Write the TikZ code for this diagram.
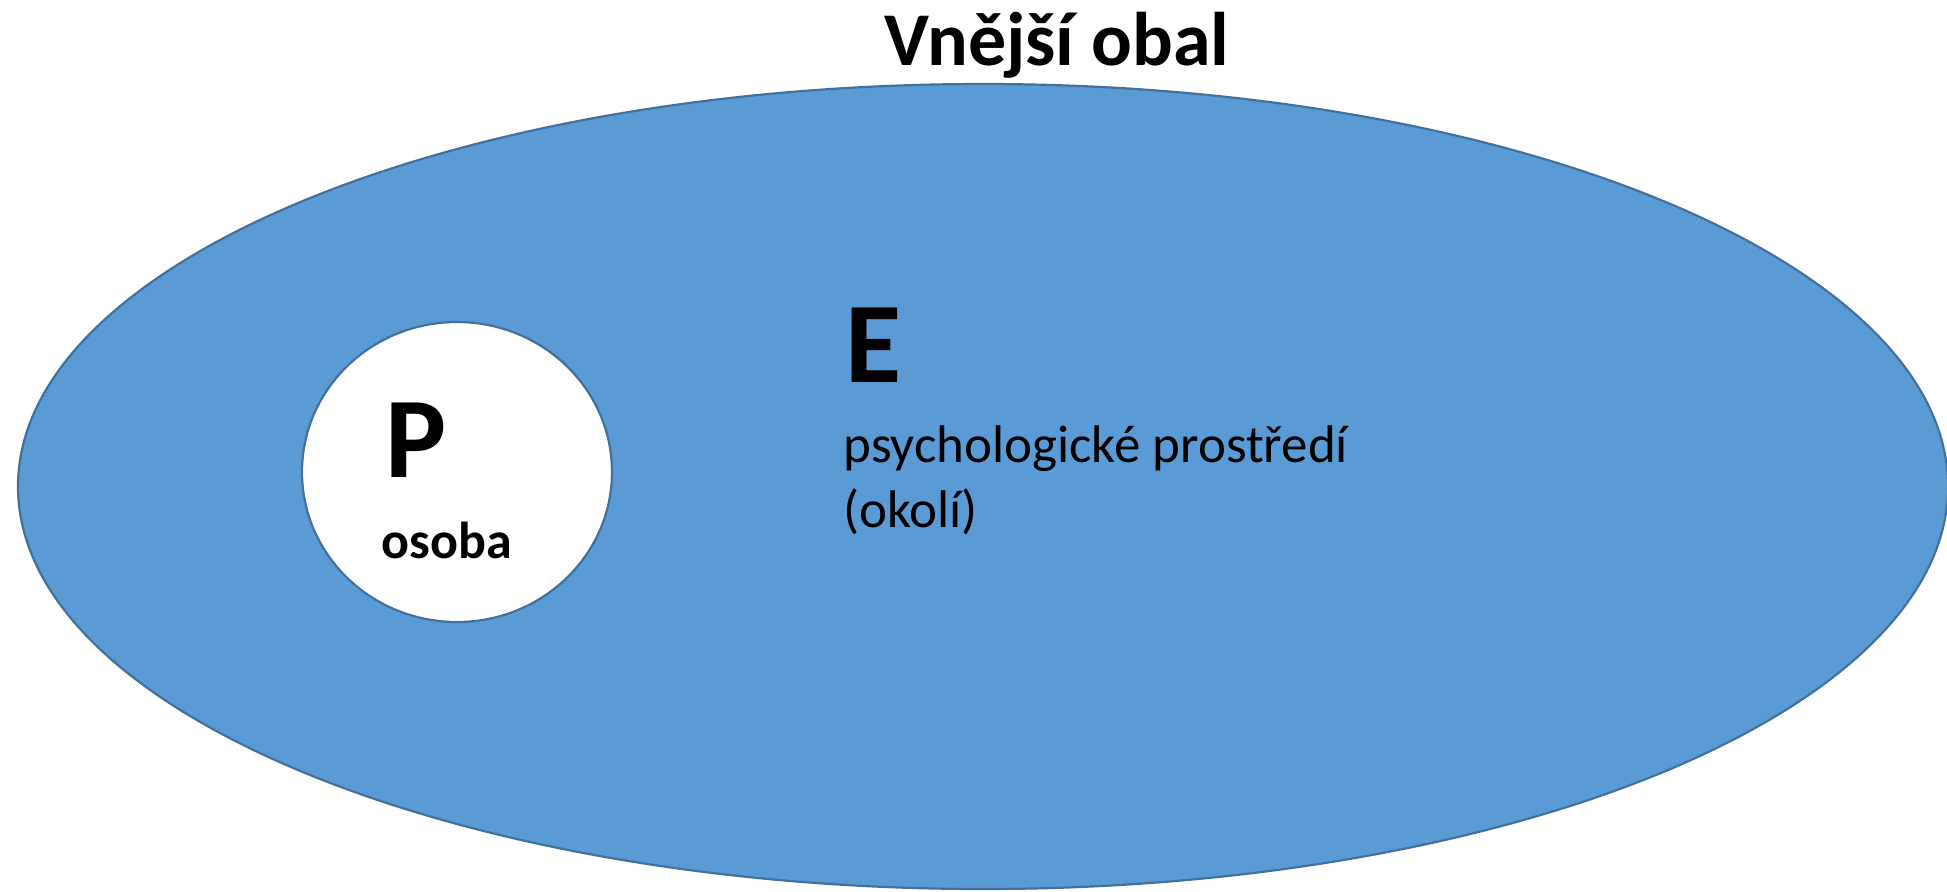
\documentclass[tikz,border=0pt]{standalone}
\usepackage{fontspec}
\setmainfont{Carlito}
\usetikzlibrary{shapes.geometric}
\definecolor{fillblue}{HTML}{5B9BD5}
\definecolor{edgeblue}{HTML}{41719C}
\tikzset{
  shape outline/.style={ellipse, draw=edgeblue, line width=1.1pt, inner sep=0pt},
  lbl/.style={inner sep=0pt, anchor=base west, text=black}
}
\begin{document}
\begin{tikzpicture}[x=0.5pt,y=0.5pt]
\useasboundingbox (0,0) rectangle (1947,-891);
\node[shape outline, fill=fillblue, minimum width=965pt, minimum height=402.5pt] (env) at (983,-486.5) {};
\node[shape outline, fill=white, minimum width=155pt, minimum height=150pt] (person) at (457,-472) {};
\node[lbl] (title) at (884,-65) {\fontsize{38}{40}\selectfont\bfseries Vnější obal};
\node[lbl] (P) at (385,-477) {\fontsize{57.5}{60}\selectfont\bfseries P};
\node[lbl] (osoba) at (381,-558) {\fontsize{26}{28}\selectfont\bfseries osoba};
\node[lbl] (E) at (845,-382) {\fontsize{57.5}{60}\selectfont\bfseries E};
\node[lbl] (psy) at (843,-462) {\fontsize{26.5}{28}\selectfont psychologické prostředí};
\node[lbl] (okoli) at (843,-527) {\fontsize{26.5}{28}\selectfont (okolí)};
\end{tikzpicture}
\end{document}
